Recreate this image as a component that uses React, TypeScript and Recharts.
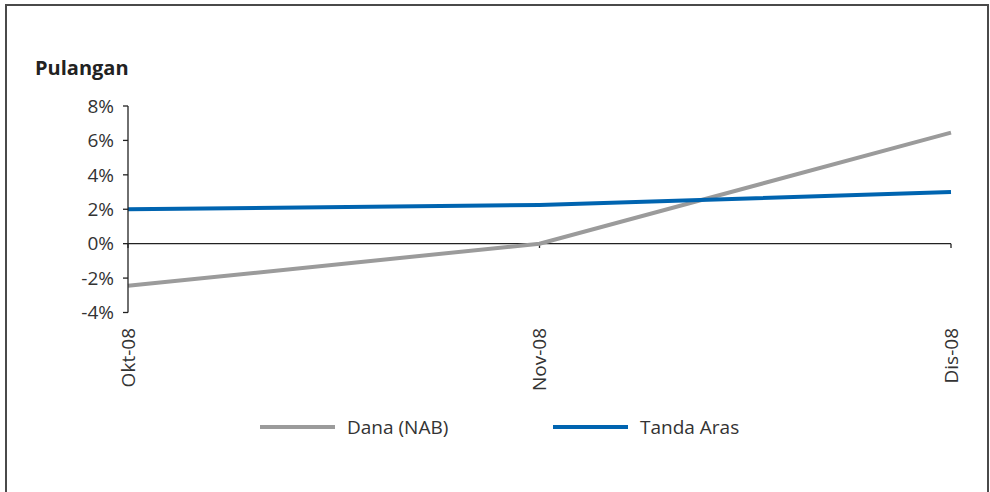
import React from 'react';
import { LineChart, Line, XAxis, YAxis, ReferenceLine, Legend } from 'recharts';

const categories = ['Okt-08', 'Nov-08', 'Dis-08'];
const danaValues = [-2.45, 0, 6.45];
const tandaArasValues = [2.0, 2.25, 3.0];
const yTicks = [-4, -2, 0, 2, 4, 6, 8];

const seriesNames = { dana: 'Dana (NAB)', tanda: 'Tanda Aras' };
const colors = { dana: '#9b9b9b', tanda: '#0064b0', axis: '#222222', text: '#333333' };

const data = categories.map((c, i) => ({ cat: c, dana: danaValues[i], tanda: tandaArasValues[i] }));

const FONT = '"Open Sans", "Noto Sans", sans-serif';

const XTick = (props: any) => {
  const { x, y, payload } = props;
  return (
    <g transform={`translate(${x},${y})`}>
      <text
        transform="rotate(-90)"
        x={-7.5}
        y={0}
        dy="0.35em"
        textAnchor="end"
        fill={colors.text}
        fontSize={19}
        fontFamily={FONT}
      >
        {payload.value}
      </text>
    </g>
  );
};

const LegendContent = () => {
  const items = [
    { name: seriesNames.dana, color: colors.dana, width: 293 },
    { name: seriesNames.tanda, color: colors.tanda, width: 200 },
  ];
  return (
    <div style={{ display: 'flex', alignItems: 'center', fontFamily: FONT, fontSize: 19, color: colors.text }}>
      {items.map((it) => (
        <div key={it.name} style={{ display: 'flex', alignItems: 'center', width: it.width }}>
          <div style={{ width: 75, height: 4, background: it.color, marginRight: 12 }} />
          <span style={{ whiteSpace: 'nowrap' }}>{it.name}</span>
        </div>
      ))}
    </div>
  );
};

export default function App() {
  return (
    <div style={{ position: 'absolute', left: 0, top: 0, width: 990, height: 492, overflow: 'hidden', background: '#fff' }}>
      <div
        style={{
          position: 'absolute',
          left: 5,
          top: 4,
          width: 980,
          height: 520,
          border: '2px solid #4a4a4a',
        }}
      />
      <div
        style={{
          position: 'absolute',
          left: 35,
          top: 55,
          fontFamily: FONT,
          fontWeight: 700,
          fontSize: 20,
          color: '#222',
          lineHeight: '26px',
        }}
      >
        Pulangan
      </div>
      <div style={{ position: 'absolute', left: 0, top: 0 }}>
        <LineChart width={990} height={492} data={data} margin={{ top: 106, right: 39, bottom: 0, left: 0 }}>
          <XAxis
            dataKey="cat"
            axisLine={false}
            tickLine={false}
            height={179.5}
            interval={0}
            tick={<XTick />}
            padding={{ left: 0, right: 0 }}
          />
          <YAxis
            width={128}
            domain={[-4, 8]}
            ticks={yTicks}
            interval={0}
            tickFormatter={(v: number) => `${v}%`}
            axisLine={{ stroke: colors.axis, strokeWidth: 1.3 }}
            tickLine={{ stroke: colors.axis, strokeWidth: 1.3 }}
            tickSize={5}
            tickMargin={9}
            tick={{ fill: colors.text, fontSize: 19, fontFamily: FONT }}
          />
          <ReferenceLine y={0} stroke={colors.axis} strokeWidth={1.3} />
          {categories.map((c) => (
            <ReferenceLine
              key={c}
              segment={[{ x: c, y: 0 }, { x: c, y: -0.25 }]}
              stroke={colors.axis}
              strokeWidth={1.3}
            />
          ))}
          <Line
            type="linear"
            dataKey="dana"
            name={seriesNames.dana}
            stroke={colors.dana}
            strokeWidth={4}
            dot={false}
            isAnimationActive={false}
          />
          <Line
            type="linear"
            dataKey="tanda"
            name={seriesNames.tanda}
            stroke={colors.tanda}
            strokeWidth={4}
            dot={false}
            isAnimationActive={false}
          />
          <Legend
            layout="horizontal"
            verticalAlign="middle"
            align="center"
            content={<LegendContent />}
            wrapperStyle={{ position: 'absolute', left: 260, top: 414, width: 'auto', height: 26 }}
          />
        </LineChart>
      </div>
    </div>
  );
}
